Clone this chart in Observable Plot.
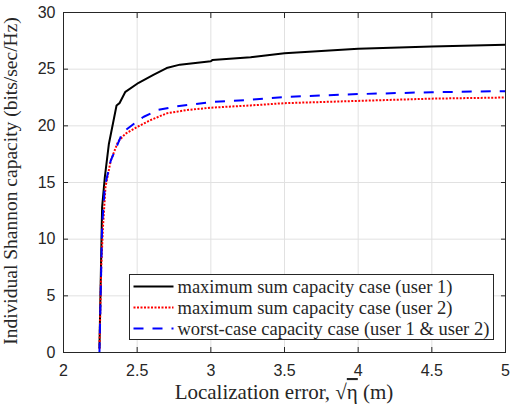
<!DOCTYPE html>
<html><head><meta charset="utf-8">
<script src="https://cdn.jsdelivr.net/npm/d3@7"></script>
<script src="https://cdn.jsdelivr.net/npm/@observablehq/plot@0.6"></script>
<style>
body{margin:0;background:#fff;}
#wrap{width:511px;height:408px;overflow:hidden;background:#fff;}
</style></head>
<body><div id="wrap"></div>
<script>
const xTicks = [2, 2.5, 3, 3.5, 4, 4.5, 5];
const yTicks = [0, 5, 10, 15, 20, 25, 30];

const seriesNames = [
  "maximum sum capacity case (user 1)",
  "maximum sum capacity case (user 2)",
  "worst-case capacity case (user 1 & user 2)"
];
const seriesColors = ["#000000", "#ff0000", "#0000ff"];
const seriesDash = [null, "2,1.5", "10,9"];

const user1X = [2.244, 2.262, 2.28, 2.308, 2.36, 2.38, 2.42, 2.51, 2.61, 2.70, 2.79, 3.0, 3.01, 3.27, 3.5, 4.0, 4.5, 5.0];
const user1Y = [0.4, 12.8, 15.4, 18.4, 21.8, 22.0, 23.0, 23.8, 24.5, 25.1, 25.4, 25.7, 25.8, 26.05, 26.4, 26.8, 27.0, 27.15];

const user2X = [2.244, 2.256, 2.268, 2.285, 2.32, 2.37, 2.42, 2.50, 2.59, 2.70, 2.84, 3.0, 3.27, 3.5, 4.0, 4.5, 5.0];
const user2Y = [0.3, 7.5, 11.1, 14.6, 16.9, 18.6, 19.3, 19.9, 20.5, 21.1, 21.4, 21.6, 21.8, 22.0, 22.2, 22.4, 22.5];

const worstX = [2.244, 2.262, 2.28, 2.32, 2.40, 2.51, 2.545, 2.64, 2.76, 3.0, 3.27, 3.5, 4.0, 4.5, 5.0];
const worstY = [0.0, 11.1, 14.6, 16.9, 19.4, 20.5, 20.8, 21.4, 21.7, 22.1, 22.3, 22.55, 22.8, 22.97, 23.06];

const toRows = (xs, ys) => xs.map((x, i) => ({x, y: ys[i]}));
const data = [toRows(user1X, user1Y), toRows(user2X, user2Y), toRows(worstX, worstY)];

const SERIF = "'Liberation Serif', 'Times New Roman', serif";

const plot = Plot.plot({
  width: 511, height: 408,
  marginLeft: 63, marginRight: 6, marginTop: 12, marginBottom: 56,
  style: {fontFamily: "Liberation Sans, Arial, sans-serif", fontSize: "16px", color: "#262626", background: "white"},
  x: {domain: [2, 5], ticks: xTicks, label: null},
  y: {domain: [0, 30], ticks: yTicks, label: null},
  marks: [
    Plot.gridX(xTicks, {stroke: "#e1e1e1", strokeOpacity: 1}),
    Plot.gridY(yTicks, {stroke: "#e1e1e1", strokeOpacity: 1}),
    ...data.map((d, i) => Plot.line(d, {x: "x", y: "y", stroke: seriesColors[i], strokeWidth: 2, strokeDasharray: seriesDash[i], strokeLinecap: "butt", strokeLinejoin: "miter"})),
    Plot.frame({stroke: "#262626", strokeWidth: 1}),
    Plot.axisX(xTicks, {anchor: "bottom", tickSize: 0, tickPadding: 12, label: null, tickFormat: d => String(d)}),
    Plot.axisY(yTicks, {anchor: "left", tickSize: 0, tickPadding: 8, label: null, tickFormat: d => String(d)}),
    Plot.axisX(xTicks, {anchor: "bottom", tickSize: -5, label: null, tickFormat: () => ""}),
    Plot.axisX(xTicks, {anchor: "top", tickSize: -5, label: null, tickFormat: () => ""}),
    Plot.axisY(yTicks, {anchor: "left", tickSize: -5, label: null, tickFormat: () => ""}),
    Plot.axisY(yTicks, {anchor: "right", tickSize: -5, label: null, tickFormat: () => ""})
  ]
});
document.getElementById("wrap").appendChild(plot);

const svg = d3.select(plot);
// x-axis label
const xl = svg.append("text")
  .attr("x", 284).attr("y", 399)
  .attr("text-anchor", "middle")
  .attr("font-family", SERIF).attr("font-size", 21).attr("fill", "#262626");
xl.append("tspan").text("Localization error, √");
xl.append("tspan").attr("style", "text-decoration: overline").text("η");
xl.append("tspan").text(" (m)");

// y-axis label
svg.append("text")
  .attr("transform", "translate(17,181) rotate(-90)")
  .attr("text-anchor", "middle")
  .attr("font-family", SERIF).attr("font-size", 19.5).attr("fill", "#262626")
  .text("Individual Shannon capacity (bits/sec/Hz)");

// legend
const lg = svg.append("g").attr("transform", "translate(129.5,274.5)");
lg.append("rect").attr("width", 364).attr("height", 65).attr("fill", "white").attr("stroke", "#262626");
seriesNames.forEach((n, i) => {
  const cy = 12 + i * 21;
  lg.append("line").attr("x1", 4).attr("x2", 44).attr("y1", cy).attr("y2", cy)
    .attr("stroke", seriesColors[i]).attr("stroke-width", 2)
    .attr("stroke-dasharray", seriesDash[i]);
  lg.append("text").attr("x", 48).attr("y", cy).attr("dy", "0.35em")
    .attr("text-anchor", "start")
    .attr("font-family", SERIF).attr("font-size", 18.5).attr("fill", "#262626").text(n);
});
</script></body></html>
